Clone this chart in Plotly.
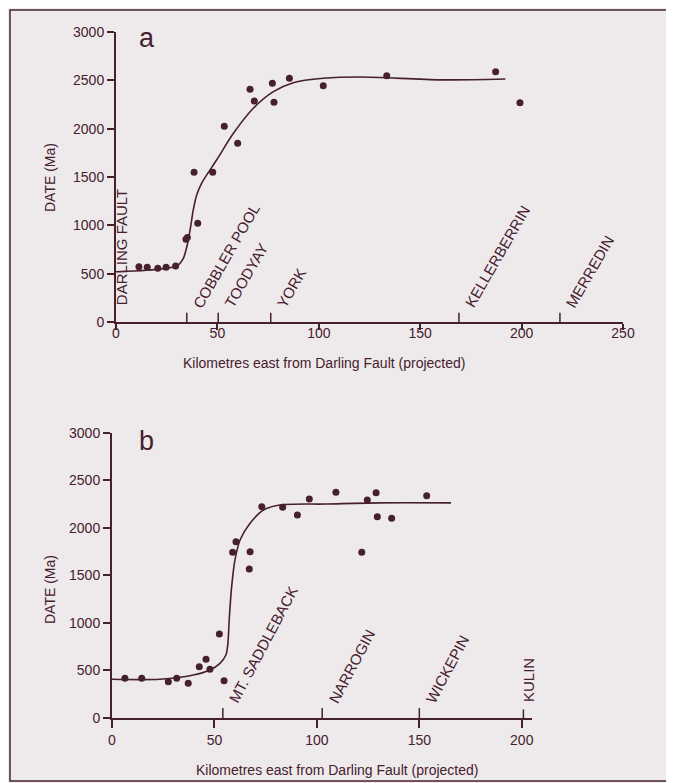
import plotly.graph_objects as go

W, H = 674, 783
OFF = 8  # default page (body) margin that shifts the figure in the browser
INK = "#46202f"
BG = "#eeeaeb"
FONT = "Liberation Sans, Arial, Helvetica, sans-serif"

# ---------------- data : panel a ----------------
pts_a_km = [11.3, 15.4, 20.6, 24.7, 29.4, 34.5, 35.2, 38.5, 40.3, 47.7, 53.4, 60.0,
            66.1, 68.2, 77.1, 77.9, 85.5, 102.2, 133.5, 187.2, 199.2]
pts_a_ma = [572, 566, 556, 566, 579, 855, 875, 1549, 1021, 1549, 2024, 1849,
            2407, 2286, 2469, 2273, 2521, 2444, 2548, 2589, 2269]
curve_a_km = [0, 15, 29.9, 33.2, 35.3, 36.8, 38.1, 39.8, 42.2, 49.6, 57.9, 67.7,
              77.6, 87.4, 102.2, 120, 160, 192]
curve_a_ma = [520, 535, 579, 659, 814, 986, 1159, 1314, 1435, 1676, 1952, 2211,
              2383, 2476, 2521, 2535, 2505, 2514]
towns_a = ["COBBLER POOL", "TOODYAY", "YORK", "KELLERBERRIN", "MERREDIN"]
towns_a_km = [34.9, 50.4, 76.3, 169.1, 218.9]
fault_a = "DARLING FAULT"

# ---------------- data : panel b ----------------
pts_b_km = [6.3, 14.5, 27.5, 31.6, 37.2, 42.6, 45.9, 47.8, 52.4, 54.7, 58.9, 60.5,
            67.4, 67.0, 73.1, 83.3, 90.5, 96.3, 109.3, 121.9, 124.6, 128.9, 129.5,
            136.5, 153.6]
pts_b_ma = [417, 417, 382, 417, 365, 539, 617, 512, 883, 392, 1742, 1854,
            1749, 1567, 2222, 2216, 2135, 2303, 2373, 1742, 2292, 2369, 2117,
            2100, 2337]
curve_b_km = [0, 23.4, 39.7, 47.8, 52.7, 55.6, 56.5, 57.3, 58.4, 60, 62.5, 67.4,
              73.9, 82, 104.8, 130, 165.5]
curve_b_ma = [407, 407, 452, 505, 575, 662, 768, 1065, 1381, 1661, 1872, 2047,
              2187, 2240, 2250, 2262, 2262]
towns_b = ["MT. SADDLEBACK", "NARROGIN", "WICKEPIN"]
towns_b_km = [54.1, 102.6, 150.0]
end_town_b = "KULIN"
end_town_b_km = 200.8

x_ticks_a = [0, 50, 100, 150, 200, 250]
x_ticks_b = [0, 50, 100, 150, 200]
y_ticks = [0, 500, 1000, 1500, 2000, 2500, 3000]

x_title = "Kilometres east from Darling Fault (projected)"
y_title = "DATE (Ma)"


def px(xp):
    return (xp - OFF) / W


def py(yp):
    return 1 - (yp - OFF) / H


fig = go.Figure()

fig.add_trace(go.Scatter(x=curve_a_km, y=curve_a_ma, mode="lines",
                         line=dict(color=INK, width=1.6, shape="spline", smoothing=0.8),
                         xaxis="x", yaxis="y", hoverinfo="skip"))
fig.add_trace(go.Scatter(x=pts_a_km, y=pts_a_ma, mode="markers",
                         marker=dict(color=INK, size=7), cliponaxis=False,
                         xaxis="x", yaxis="y"))
fig.add_trace(go.Scatter(x=curve_b_km, y=curve_b_ma, mode="lines",
                         line=dict(color=INK, width=1.6, shape="spline", smoothing=0.8),
                         xaxis="x2", yaxis="y2", hoverinfo="skip"))
fig.add_trace(go.Scatter(x=pts_b_km, y=pts_b_ma, mode="markers",
                         marker=dict(color=INK, size=7), cliponaxis=False,
                         xaxis="x2", yaxis="y2"))

tickfont = dict(family=FONT, size=14, color=INK)
axis_common = dict(showline=True, linecolor=INK, linewidth=2, showgrid=False,
                   zeroline=False, ticks="outside", tickcolor=INK, tickwidth=1.5,
                   tickfont=tickfont, fixedrange=True, automargin=False)

shapes = []
annotations = []

# town ticks + labels panel a
for name, km in zip(towns_a, towns_a_km):
    shapes.append(dict(type="line", xref="x", yref="y", x0=km, x1=km, y0=0, y1=95,
                       line=dict(color=INK, width=1.5)))
    annotations.append(dict(x=km, y=90, xref="x", yref="y", text=name, textangle=-60,
                            xanchor="left", yanchor="bottom", showarrow=False,
                            font=dict(family=FONT, size=15, color=INK)))
annotations.append(dict(x=2.8, y=150, xref="x", yref="y", text=fault_a, textangle=-90,
                        xanchor="center", yanchor="bottom", showarrow=False,
                        font=dict(family=FONT, size=15, color=INK)))

# town ticks + labels panel b
for name, km in zip(towns_b, towns_b_km):
    shapes.append(dict(type="line", xref="x2", yref="y2", x0=km, x1=km, y0=0, y1=105,
                       line=dict(color=INK, width=1.5)))
    annotations.append(dict(x=km, y=100, xref="x2", yref="y2", text=name, textangle=-62,
                            xanchor="left", yanchor="bottom", showarrow=False,
                            font=dict(family=FONT, size=15, color=INK)))
shapes.append(dict(type="line", xref="x2", yref="y2", x0=end_town_b_km, x1=end_town_b_km,
                   y0=0, y1=90, line=dict(color=INK, width=1.5)))
annotations.append(dict(x=end_town_b_km + 2.4, y=150, xref="x2", yref="y2", text=end_town_b,
                        textangle=-90, xanchor="center", yanchor="bottom", showarrow=False,
                        font=dict(family=FONT, size=15, color=INK)))

# titles
for yc in (178, 590):
    annotations.append(dict(x=px(50), y=py(yc), xref="paper", yref="paper", text=y_title,
                            textangle=-90, xanchor="center", yanchor="middle",
                            showarrow=False, font=dict(family=FONT, size=14, color=INK)))
annotations.append(dict(x=px(324), y=py(363), xref="paper", yref="paper", text=x_title,
                        xanchor="center", yanchor="middle", showarrow=False,
                        font=dict(family=FONT, size=14, color=INK)))
annotations.append(dict(x=px(337), y=py(770), xref="paper", yref="paper", text=x_title,
                        xanchor="center", yanchor="middle", showarrow=False,
                        font=dict(family=FONT, size=14, color=INK)))
annotations.append(dict(x=px(147), y=py(38), xref="paper", yref="paper", text="a",
                        xanchor="center", yanchor="middle", showarrow=False,
                        font=dict(family=FONT, size=27, color=INK)))
annotations.append(dict(x=px(146), y=py(441), xref="paper", yref="paper", text="b",
                        xanchor="center", yanchor="middle", showarrow=False,
                        font=dict(family=FONT, size=27, color=INK)))

# outer frame
shapes.append(dict(type="rect", xref="paper", yref="paper", x0=px(10), x1=px(668),
                   y0=py(781), y1=py(10), line=dict(color=INK, width=1.5)))

fig.update_layout(
    width=W, height=H, margin=dict(l=0, r=0, t=0, b=0),
    paper_bgcolor=BG, plot_bgcolor=BG, showlegend=False,
    xaxis=dict(axis_common, domain=[px(116), px(623)], range=[0, 250],
               tickvals=x_ticks_a, ticklen=6, ticklabelstandoff=-9, anchor="y"),
    yaxis=dict(axis_common, domain=[py(322), py(32)], range=[0, 3000],
               tickvals=y_ticks, ticklen=7, anchor="x"),
    xaxis2=dict(axis_common, domain=[px(112), px(532)], range=[0, 205],
                tickvals=x_ticks_b, ticklen=8, anchor="y2"),
    yaxis2=dict(axis_common, domain=[py(718), py(432.7)], range=[0, 3000],
                tickvals=y_ticks, ticklen=7, anchor="x2"),
    shapes=shapes, annotations=annotations,
)

fig.write_html("out.html")
